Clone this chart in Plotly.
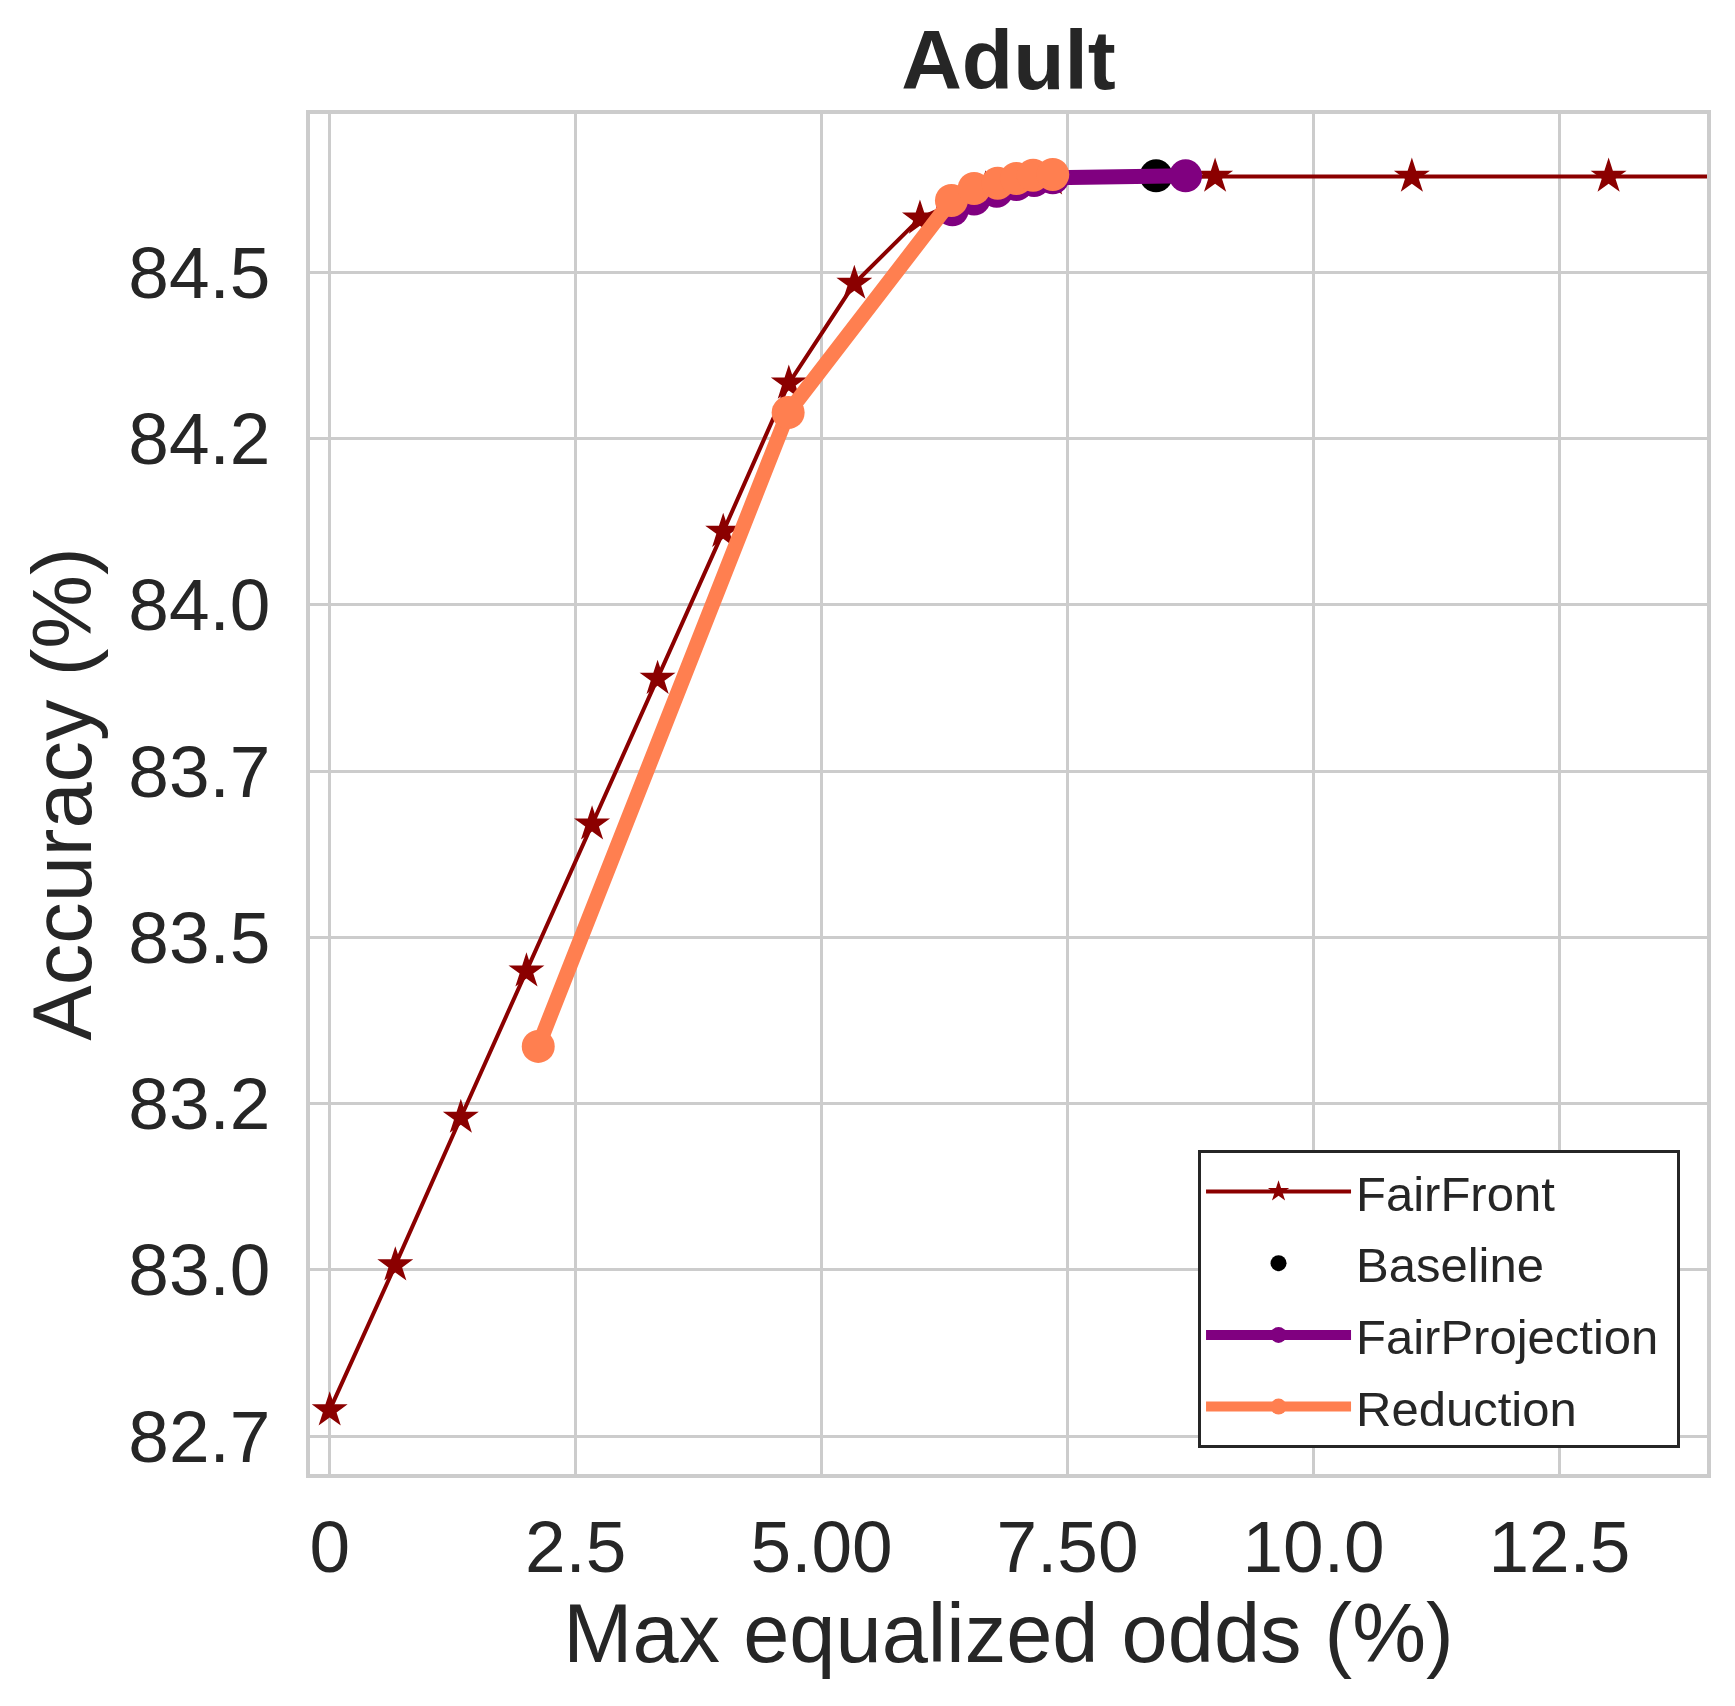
import plotly.graph_objects as go

# values (Adult dataset)
fairfront_x = [0.0, 0.667, 1.333, 2.0, 2.667, 3.333, 4.0, 4.667, 5.333, 6.0,
               6.667, 7.333, 9.0, 11.0, 13.0, 15.0]
fairfront_y = [82.789, 83.007, 83.229, 83.449, 83.670, 83.889, 84.110, 84.333,
               84.483, 84.581, 84.625, 84.640, 84.644, 84.644, 84.644, 84.644]

baseline_x = [8.40]
baseline_y = [84.645]

fairproj_x = [6.33, 6.55, 6.78, 6.98, 7.16, 7.35, 8.70]
fairproj_y = [84.594, 84.610, 84.622, 84.632, 84.638, 84.642, 84.645]

reduction_x = [2.12, 4.66, 6.32, 6.55, 6.79, 6.98, 7.15, 7.35]
reduction_y = [83.336, 84.289, 84.608, 84.626, 84.634, 84.641, 84.646, 84.647]

x_ticks = [0, 2.5, 5, 7.5, 10, 12.5]
x_ticktext = ['0', '2.5', '5.00', '7.50', '10.0', '12.5']
y_ticks = [82.75, 83.0, 83.25, 83.5, 83.75, 84.0, 84.25, 84.5]
y_ticktext = ['82.7', '83.0', '83.2', '83.5', '83.7', '84.0', '84.2', '84.5']

FONT = 'Arial, Liberation Sans, sans-serif'
TXT = '#262626'
GRID = '#cccccc'
PAD = '&nbsp;'  # a little room on the right of the legend text

fig = go.Figure()

fig.add_trace(go.Scatter(
    x=fairfront_x, y=fairfront_y, mode='lines+markers', name='FairFront' + PAD,
    legendgroup='ff',
    line=dict(color='#8B0000', width=4),
    marker=dict(symbol='star', size=27, color='#8B0000')))

fig.add_trace(go.Scatter(
    x=baseline_x, y=baseline_y, mode='markers', name='Baseline' + PAD,
    legendgroup='base',
    marker=dict(symbol='circle', size=33, color='black')))

fig.add_trace(go.Scatter(
    x=fairproj_x, y=fairproj_y, mode='lines+markers',
    name='FairProjection' + PAD, legendgroup='fp',
    line=dict(color='#800080', width=15),
    marker=dict(symbol='circle', size=33, color='#800080')))

fig.add_trace(go.Scatter(
    x=reduction_x, y=reduction_y, mode='lines+markers', name='Reduction' + PAD,
    legendgroup='red',
    line=dict(color='#FF7F50', width=15),
    marker=dict(symbol='circle', size=33, color='#FF7F50')))

fig.update_layout(
    width=1735, height=1706, autosize=False,
    margin=dict(l=310, r=28, t=114, b=232),
    paper_bgcolor='white', plot_bgcolor='white',
    font=dict(family=FONT, color=TXT),
    title=dict(text='<b>Adult</b>', font=dict(size=84, color=TXT),
               x=0.5, xref='paper', xanchor='center',
               y=1 - 60 / 1706, yref='container', yanchor='middle'),
    legend=dict(x=0.9807, y=0.019, xanchor='right', yanchor='bottom',
                bgcolor='white', bordercolor='#262626', borderwidth=3,
                font=dict(size=49, color=TXT), itemwidth=145,
                tracegroupgap=5),
    showlegend=True,
)

fig.update_xaxes(
    range=[-0.2, 14.0], tickvals=x_ticks, ticktext=x_ticktext,
    tickfont=dict(size=73, color=TXT), ticks='', ticklabelstandoff=6,
    showgrid=True, gridcolor=GRID, gridwidth=3, zeroline=False,
    showline=True, mirror=True, linecolor=GRID, linewidth=4,
    title=dict(text='Max equalized odds (%)', font=dict(size=83, color=TXT),
               standoff=18),
    automargin=False)

fig.update_yaxes(
    range=[82.693, 84.738], tickvals=y_ticks, ticktext=y_ticktext,
    tickfont=dict(size=73, color=TXT), ticks='', ticklabelstandoff=21,
    showgrid=True, gridcolor=GRID, gridwidth=3, zeroline=False,
    showline=True, mirror=True, linecolor=GRID, linewidth=4,
    title=dict(text='Accuracy (%)', font=dict(size=83, color=TXT),
               standoff=10),
    automargin=False)

fig.write_html("out.html", config={'displayModeBar': False},
               post_script="document.body.style.margin='0';")
